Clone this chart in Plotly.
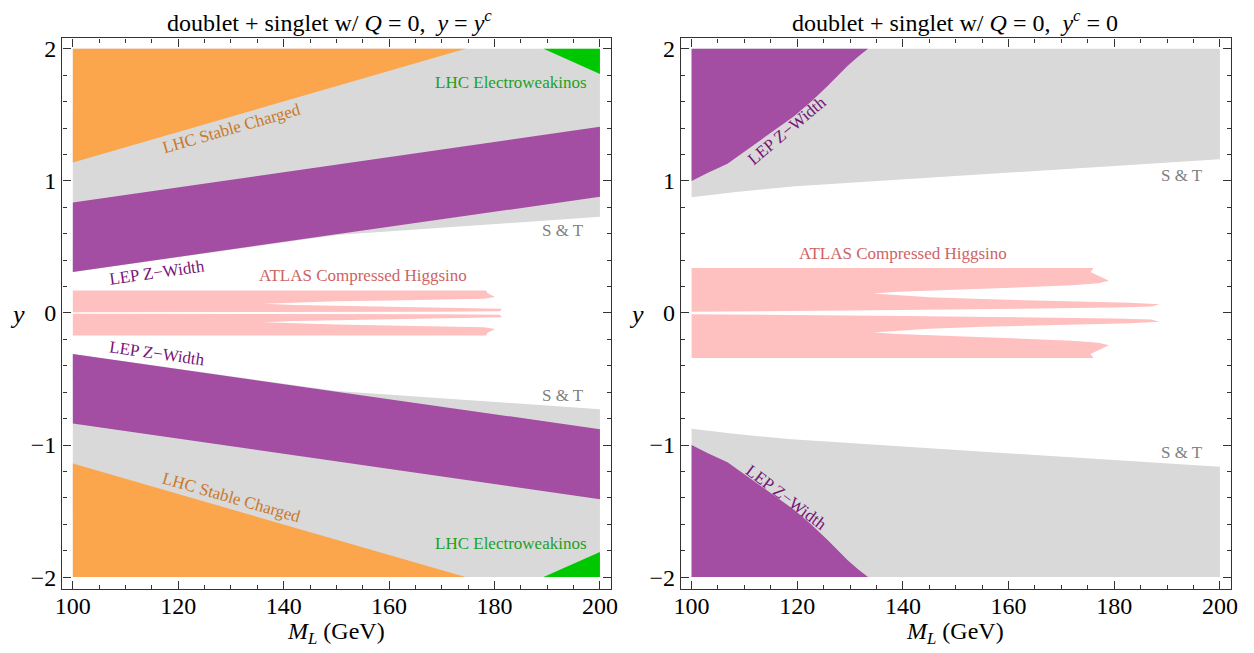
import plotly.graph_objects as go

# ---------------- data ----------------
# Left panel: y = y^c
L_ORANGE_X = [100, 174.5, 100]
L_ORANGE_Y = [2.0, 2.0, 1.14]
L_GRAY_X = [100, 200, 200, 175, 150, 100]
L_GRAY_Y = [2.0, 2.0, 0.728, 0.66, 0.59, 0.311]
L_PURPLE_X = [100, 200, 200, 100]
L_PURPLE_Y = [0.837, 1.41, 0.88, 0.311]
L_GREEN_X = [189.3, 200, 200]
L_GREEN_Y = [2.0, 2.0, 1.81]
L_ATLAS_X = [100, 178.4, 178.7, 180.1, 178, 170, 160, 150, 142, 136.2,
             142, 150, 160, 170, 178, 181.4, 181, 170, 100]
L_ATLAS_Y = [0.170, 0.170, 0.15, 0.122, 0.108, 0.100, 0.094, 0.088, 0.080, 0.070,
             0.060, 0.054, 0.048, 0.043, 0.038, 0.032, 0.014, 0.010, 0.006]

# Right panel: y^c = 0
R_GRAY_X = [100, 200, 200, 174, 150, 130, 119, 108, 100]
R_GRAY_Y = [2.0, 2.0, 1.165, 1.10, 1.04, 0.99, 0.957, 0.915, 0.876]
R_PURPLE_X = [100, 133.4, 131.5, 129.5, 125.8, 122.6, 119.4, 116.3, 113.1, 110, 106.8, 103, 100]
R_PURPLE_Y = [2.0, 2.0, 1.94, 1.87, 1.72, 1.60, 1.49, 1.40, 1.31, 1.22, 1.13, 1.06, 1.0]
R_ATLAS_X = [100, 176.1, 175.5, 177, 179, 177, 172, 165, 155, 145, 139, 134.4,
             139, 145, 155, 165, 175, 183, 188.6, 187, 180, 165, 140, 100]
R_ATLAS_Y = [0.34, 0.34, 0.31, 0.28, 0.245, 0.225, 0.21, 0.198, 0.185, 0.172, 0.16, 0.147,
             0.133, 0.12, 0.105, 0.095, 0.087, 0.078, 0.066, 0.05, 0.042, 0.035, 0.022, 0.01]

X_TICKS = [100, 120, 140, 160, 180, 200]
Y_TICKS = [-2, -1, 0, 1, 2]

TITLE_L = "doublet + singlet w/ <i>Q</i> = 0,  <i>y</i> = <i>y</i><sup><i>c</i></sup>"
TITLE_R = "doublet + singlet w/ <i>Q</i> = 0,  <i>y</i><sup><i>c</i></sup> = 0"

# ---------------- styles ----------------
C_ORANGE = "#FBA54C"
C_GRAY = "#D9D9D9"
C_PURPLE = "#A34DA3"
C_GREEN = "#00C800"
C_PINK = "#FFC0C0"
FONT = "Liberation Serif"

# the page body has an 8px margin, so the figure is drawn 8px in from the corner
OFF = 8
W, H = 1254 - OFF, 653 - OFF


def fx(px):
    return (px - OFF) / W


def fy(py):
    return 1 - (py - OFF) / H


fig = go.Figure()


def neg(v):
    return [-a for a in v]


def region(xs, ys, color, axis):
    xa, ya = ("x", "y") if axis == 1 else ("x2", "y2")
    fig.add_trace(go.Scatter(x=xs + [xs[0]], y=ys + [ys[0]], mode="lines", fill="toself",
                             fillcolor=color, line=dict(width=0, color=color),
                             hoverinfo="skip", showlegend=False, xaxis=xa, yaxis=ya))


# left panel
for s in (1, -1):
    f = (lambda v: v) if s == 1 else neg
    region(L_GRAY_X, f(L_GRAY_Y), C_GRAY, 1)
    region(L_ORANGE_X, f(L_ORANGE_Y), C_ORANGE, 1)
    region(L_PURPLE_X, f(L_PURPLE_Y), C_PURPLE, 1)
    region(L_GREEN_X, f(L_GREEN_Y), C_GREEN, 1)
    region(L_ATLAS_X, f(L_ATLAS_Y), C_PINK, 1)
# right panel
for s in (1, -1):
    f = (lambda v: v) if s == 1 else neg
    region(R_GRAY_X, f(R_GRAY_Y), C_GRAY, 2)
    region(R_PURPLE_X, f(R_PURPLE_Y), C_PURPLE, 2)
    region(R_ATLAS_X, f(R_ATLAS_Y), C_PINK, 2)

axcommon = dict(showgrid=False, zeroline=False, showline=True, linecolor="#333333",
                linewidth=1.4, mirror="ticks", ticks="inside", ticklen=8, tickwidth=1,
                tickcolor="#333333", automargin=False,
                tickfont=dict(family=FONT, size=24, color="black"))
xax = dict(axcommon, range=[98.0, 202.1], tickvals=X_TICKS, ticklabelstandoff=-5,
           minor=dict(dtick=5, tick0=100, ticks="inside", ticklen=4, tickcolor="#333333"))
yax = dict(axcommon, range=[-2.09, 2.08], tickvals=Y_TICKS,
           minor=dict(dtick=0.2, tick0=0, ticks="inside", ticklen=4, tickcolor="#333333"))

fig.update_layout(
    width=W, height=H, autosize=False,
    margin=dict(l=0, r=0, t=0, b=0, autoexpand=False),
    paper_bgcolor="white", plot_bgcolor="white",
    xaxis=dict(xax, domain=[fx(62.3), fx(611)], anchor="y"),
    yaxis=dict(yax, domain=[fy(589), fy(38.3)], anchor="x"),
    xaxis2=dict(xax, domain=[fx(681), fx(1231)], anchor="y2"),
    yaxis2=dict(yax, domain=[fy(589), fy(38.3)], anchor="x2"),
)


def ann(text, x, y, color, size=17, angle=0, ref=1):
    xr, yr = ("x", "y") if ref == 1 else ("x2", "y2")
    fig.add_annotation(text=text, x=x, y=y, xref=xr, yref=yr, showarrow=False,
                       textangle=angle, font=dict(family=FONT, size=size, color=color))


C_T_OR = "#C8782A"
C_T_GR = "#1EA01E"
C_T_PU = "#781478"
C_T_PK = "#CD6464"
C_T_GY = "#808080"

ann("LHC Stable Charged", 130.1, 1.40, C_T_OR, angle=-16)
ann("LHC Stable Charged", 130.1, -1.40, C_T_OR, angle=16)
ann("LHC Electroweakinos", 183.1, 1.747, C_T_GR)
ann("LHC Electroweakinos", 183.1, -1.747, C_T_GR)
ann("S &amp; T", 192.9, 0.627, C_T_GY)
ann("S &amp; T", 192.9, -0.627, C_T_GY)
ann("LEP Z\u2212Width", 116.0, 0.306, C_T_PU, angle=-8)
ann("LEP Z\u2212Width", 116.0, -0.306, C_T_PU, angle=8)
ann("ATLAS Compressed Higgsino", 155.1, 0.286, C_T_PK)

ann("LEP Z\u2212Width", 118.1, 1.38, C_T_PU, angle=-40, ref=2)
ann("LEP Z\u2212Width", 117.9, -1.40, C_T_PU, angle=37, ref=2)
ann("S &amp; T", 192.9, 1.044, C_T_GY, ref=2)
ann("S &amp; T", 192.9, -1.056, C_T_GY, ref=2)
ann("ATLAS Compressed Higgsino", 140.1, 0.45, C_T_PK, ref=2)


# titles and axis labels (reference pixel positions)
def pann(text, px, py, size, yanchor="middle"):
    fig.add_annotation(text=text, x=fx(px), y=fy(py), xref="paper", yref="paper",
                       showarrow=False, xanchor="center", yanchor=yanchor,
                       font=dict(family=FONT, size=size, color="black"))


pann(TITLE_L, 329, 21, 24)
pann(TITLE_R, 955, 21, 24)
pann("<i>M<sub>L</sub></i> (GeV)", 336, 633, 24)
pann("<i>M<sub>L</sub></i> (GeV)", 955, 633, 24)
pann("<i>y</i>", 18, 314, 26)
pann("<i>y</i>", 636, 314, 26)

fig.write_html("out.html")
